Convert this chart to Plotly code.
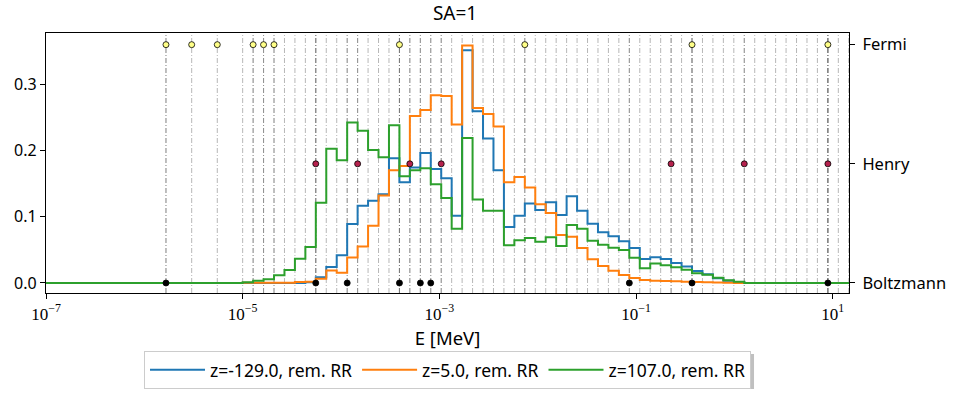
import numpy as np
import plotly.graph_objects as go

# ---------------- data ----------------
# energy bin structure (log-spaced groups starting at 1e-5 MeV)
LOG_E_FIRST_EDGE = -5.0
LOG_BIN_WIDTH = 0.10627
N_BINS = 60
E_LOW = 1e-7  # lowest energy shown (empty region)

series_names = ["z=-129.0, rem. RR", "z=5.0, rem. RR", "z=107.0, rem. RR"]
series_colors = ["#1f77b4", "#ff7f0e", "#2ca02c"]

flux_z_m129 = [
    0, 0, 0, 0, 0, 0, 0.001, 0.0085, 0.024, 0.0417,
    0.089, 0.1166, 0.124, 0.134, 0.188, 0.152, 0.174, 0.196, 0.172, 0.158,
    0.1015, 0.351, 0.259, 0.218, 0.170, 0.0844, 0.1015, 0.120, 0.110, 0.1216,
    0.1025, 0.1307, 0.109, 0.0894, 0.0764, 0.0706, 0.0628, 0.0528, 0.0362, 0.039,
    0.0362, 0.030, 0.025, 0.018, 0.0133, 0.0072, 0.0035, 0.0015, 0, 0,
    0, 0, 0, 0, 0, 0, 0, 0, 0, 0,
]
flux_z_5 = [
    0.0005, 0.0005, 0.0005, 0.0005, 0.0005, 0.0015, 0.002, 0.0065, 0.019, 0.0156,
    0.0385, 0.055, 0.0864, 0.132, 0.170, 0.1764, 0.2518, 0.2608, 0.283, 0.282,
    0.239, 0.358, 0.264, 0.2548, 0.236, 0.1518, 0.160, 0.144, 0.1186, 0.1055,
    0.0724, 0.0698, 0.0528, 0.0357, 0.0256, 0.0184, 0.012, 0.0075, 0.0045, 0.0035,
    0.003, 0.0025, 0.002, 0.0015, 0.001, 0.0008, 0.0005, 0, 0, 0,
    0, 0, 0, 0, 0, 0, 0, 0, 0, 0,
]
flux_z_107 = [
    0.001, 0.0035, 0.0055, 0.0116, 0.0196, 0.0367, 0.0543, 0.121, 0.2025, 0.185,
    0.242, 0.2297, 0.2005, 0.1895, 0.238, 0.161, 0.170, 0.173, 0.1488, 0.128,
    0.0819, 0.2186, 0.126, 0.109, 0.109, 0.0568, 0.0643, 0.0678, 0.0623, 0.0689,
    0.0558, 0.0874, 0.0819, 0.0638, 0.0578, 0.0533, 0.0497, 0.0382, 0.0221, 0.0293,
    0.0266, 0.0236, 0.020, 0.0146, 0.0126, 0.0078, 0.004, 0.002, 0, 0,
    0, 0, 0, 0, 0, 0, 0, 0, 0, 0,
]

# model energies (MeV) marked on the three levels
fermi_E = [1.66e-6, 3.03e-6, 5.52e-6, 1.277e-5, 1.631e-5, 2.083e-5, 3.93e-4, 7.40e-3, 0.371, 8.94]
henry_E = [5.54e-5, 1.476e-4, 5.01e-4, 1.045e-3, 0.2274, 1.262, 8.94]
boltzmann_E = [1.66e-6, 5.54e-5, 1.156e-4, 3.93e-4, 6.41e-4, 8.18e-4, 0.0855, 0.371, 8.94]

level_labels = ["Boltzmann", "Henry", "Fermi"]
level_colors = ["#000000", "#b5214d", "#ffff88"]

x_tick_vals = [1e-7, 1e-5, 1e-3, 1e-1, 1e1]
x_tick_text = ["10<sup>\u22127</sup>", "10<sup>\u22125</sup>", "10<sup>\u22123</sup>",
               "10<sup>\u22121</sup>", "10<sup>1</sup>"]
y_tick_vals = [0.0, 0.1, 0.2, 0.3]
y_tick_text = ["0.0", "0.1", "0.2", "0.3"]

# ---------------- figure ----------------
edges = 10 ** (LOG_E_FIRST_EDGE + LOG_BIN_WIDTH * np.arange(N_BINS + 1))

fig = go.Figure()

SANS = "Noto Sans"
SERIF = "Liberation Serif"

# vertical dash-dot guide lines at bin edges and at marked energies
vline_x = list(edges) + fermi_E + henry_E + boltzmann_E
shapes = []
for xv in vline_x:
    shapes.append(dict(type="line", xref="x", yref="paper", x0=xv, x1=xv, y0=0, y1=1,
                       layer="below",
                       line=dict(color="rgba(90,90,90,0.55)", width=0.8, dash="5px,2px,1px,2px")))

for name, color, vals in zip(series_names, series_colors, [flux_z_m129, flux_z_5, flux_z_107]):
    xs = [E_LOW] + list(edges)
    ys = [0.0] + list(vals) + [vals[-1]]
    fig.add_trace(go.Scatter(x=xs, y=ys, mode="lines", name=name,
                             line=dict(color=color, width=2, shape="hv")))

for lvl, (energies, col) in enumerate(zip([boltzmann_E, henry_E, fermi_E], level_colors)):
    fig.add_trace(go.Scatter(x=energies, y=[lvl] * len(energies), mode="markers",
                             yaxis="y2", showlegend=False,
                             marker=dict(color=col, size=6, line=dict(color="black", width=0.8))))

# legend drop shadow
shapes.append(dict(type="rect", xref="paper", yref="paper",
                   x0=0.1233, x1=0.8817, y0=-0.3692, y1=-0.2346, layer="above",
                   line=dict(width=0), fillcolor="rgba(150,150,150,0.6)"))

Y_LO, Y_HI = -0.0151, 0.377
LVL = 0.1797

fig.update_layout(
    width=958, height=396,
    margin=dict(l=46, r=109, t=33, b=103, autoexpand=False),
    paper_bgcolor="white", plot_bgcolor="white",
    font=dict(family=SANS, size=15, color="black"),
    title=dict(text="SA=1", x=0.475, xanchor="center", y=0.967, yanchor="middle",
               font=dict(family=SANS, size=19)),
    shapes=shapes,
    xaxis=dict(type="log", range=[-7, 1.166], tickvals=x_tick_vals, ticktext=x_tick_text,
               tickfont=dict(family=SERIF, size=17),
               showline=True, linecolor="black", linewidth=1.2, mirror=True,
               ticks="outside", ticklen=5, tickcolor="black", showgrid=False, zeroline=False,
               title=dict(text="E [MeV]", font=dict(family=SANS, size=18.5), standoff=9)),
    yaxis=dict(range=[Y_LO, Y_HI], tickvals=y_tick_vals, ticktext=y_tick_text,
               tickfont=dict(family=SANS, size=16),
               showline=True, linecolor="black", linewidth=1.2,
               ticks="outside", ticklen=5, tickcolor="black", showgrid=False, zeroline=False),
    yaxis2=dict(overlaying="y", side="right", range=[Y_LO / LVL, Y_HI / LVL],
                tickvals=[0, 1, 2], ticktext=level_labels,
                tickfont=dict(family=SANS, size=16.5), ticklabelstandoff=4,
                showline=True, linecolor="black", linewidth=1.2,
                ticks="outside", ticklen=5, tickcolor="black", showgrid=False, zeroline=False),
    legend=dict(orientation="h", x=0.5, xanchor="center", y=-0.223, yanchor="top",
                bgcolor="white", bordercolor="#cccccc", borderwidth=1,
                font=dict(family=SANS, size=17.5), itemwidth=55),
    showlegend=True,
)

fig.write_html("out.html", config={"displayModeBar": False},
               post_script="document.body.style.margin='0';")
